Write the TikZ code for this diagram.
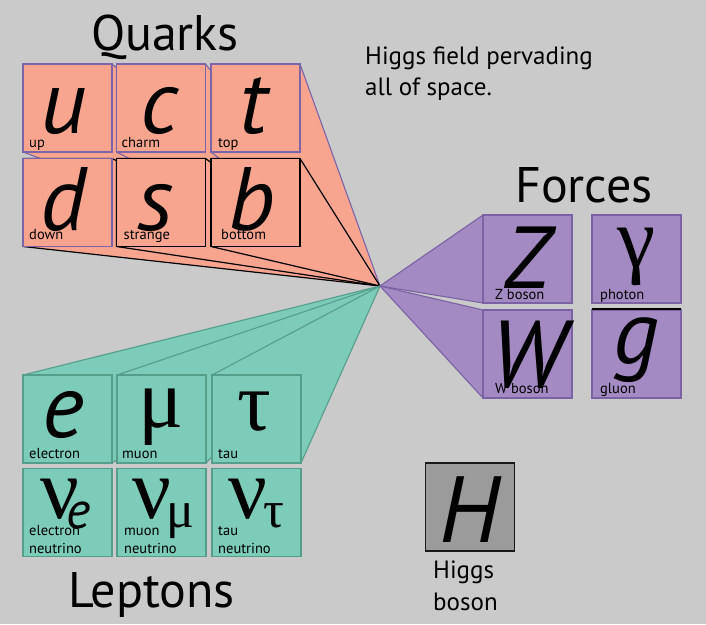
\documentclass[tikz,border=0pt]{standalone}
\usepackage{fontspec}
\setmainfont{PT Sans}
\newfontfamily\grkfont{Liberation Serif}
\usetikzlibrary{calc}
\pgfdeclarelayer{back}
\pgfdeclarelayer{beams}
\pgfsetlayers{back,beams,main}
\definecolor{bgc}{HTML}{CACACA}
\definecolor{qfill}{HTML}{F8A58F}
\definecolor{qline}{HTML}{7B64A8}
\definecolor{lfill}{HTML}{7DCBB9}
\definecolor{lline}{HTML}{559E8B}
\definecolor{ffill}{HTML}{A48AC2}
\definecolor{fline}{HTML}{7A62A5}
\definecolor{hfill}{HTML}{9B9B9B}
\tikzset{
  cell/.style={minimum width=89pt, minimum height=88pt, inner sep=0pt, outer sep=0pt, line width=1.1pt},
  qbox/.style={cell, draw=qline, fill=qfill},
  qboxk/.style={cell, draw=black, fill=qfill, line width=1.4pt},
  lbox/.style={cell, draw=lline, fill=lfill},
  fbox/.style={cell, draw=fline, fill=ffill},
  hbox/.style={cell, draw=black!90, fill=hfill, line width=1.3pt},
  bigit/.style={anchor=base, inner sep=0pt, font=\fontsize{90}{90}\selectfont\itshape},
  biggr/.style={anchor=base, inner sep=0pt, font=\fontsize{84}{84}\selectfont\grkfont},
  lab/.style={anchor=base west, inner sep=0pt, font=\fontsize{14.5}{14.5}\selectfont},
  title/.style={anchor=base, inner sep=0pt, font=\fontsize{50}{50}\selectfont},
  note/.style={anchor=base west, inner sep=0pt, font=\fontsize{25}{25}\selectfont},
  qbeam/.style={fill=qfill, draw=qline, line width=1.1pt, line join=round},
  qbeamk/.style={fill=qfill, draw=black, line width=1.2pt, line join=round},
  lbeam/.style={fill=lfill, draw=lline, line width=1.1pt, line join=round},
  fbeam/.style={fill=ffill, draw=fline, line width=1.1pt, line join=round},
}
\begin{document}
\begin{tikzpicture}[x=1pt,y=-1pt]
\useasboundingbox (0,0) rectangle (706,624);
\begin{pgfonlayer}{back}
  \fill[bgc] (0,0) rectangle (706,624);
\end{pgfonlayer}

\coordinate (O) at (380,286);

% Quarks
\node[qbox]  (u) at (67.5,108) {};
\node[qbox]  (c) at (161,108) {};
\node[qbox]  (t) at (255.5,108) {};
\node[qbox]  (d) at (67.5,202.5) {};
\node[qboxk] (s) at (161,202.5) {};
\node[qboxk] (b) at (255.5,202.5) {};

% Leptons
\node[lbox] (e)   at (67.5,419) {};
\node[lbox] (mu)  at (161.5,419) {};
\node[lbox] (tau) at (256.5,419) {};
\node[lbox] (ne)  at (67.5,512.5) {};
\node[lbox] (nm)  at (161.5,512.5) {};
\node[lbox] (nt)  at (256.5,512.5) {};

% Forces
\node[fbox] (Z) at (527.5,259) {};
\node[fbox] (ga) at (636.5,259) {};
\node[fbox] (W) at (527.5,354) {};
\node[fbox] (g) at (636.5,354) {};
\draw[line width=1.6pt] ($(g.north west)+(0,-1)$) -- ($(g.north east)+(0,-1)$);

% Higgs
\node[hbox] (H) at (470,507) {};

% beams
\begin{pgfonlayer}{beams}
  \foreach \n/\s in {u/qbeam,c/qbeam,t/qbeam,d/qbeamk,s/qbeamk,b/qbeamk}{
    \filldraw[\s] (\n.north east) -- (O) -- (\n.south west) -- (\n.north west) -- cycle;
  }
  \foreach \n in {e,mu,tau}{
    \filldraw[lbeam] (\n.north west) -- (O) -- (\n.south east) -- (\n.south west) -- cycle;
  }
  \foreach \n in {Z,W}{
    \filldraw[fbeam] (\n.north west) -- (O) -- (\n.south west) -- cycle;
  }
\end{pgfonlayer}

% big letters
\node[bigit] (uL) at ($(u.north)+(-4,69)$) {u};
\node[bigit] (cL) at ($(c.north)+(-2,69)$) {c};
\node[bigit] (tL) at ($(t.north)+(-2,69)$) {t};
\node[bigit] (dL) at ($(d.north)+(-4,72)$) {d};
\node[bigit] (sL) at ($(s.north)+(-6,72)$) {s};
\node[bigit] (bL) at ($(b.north)+(-4,72)$) {b};
\node[bigit] (eL) at ($(e.north)+(-4,62)$) {e};
\node[biggr] (muL) at ($(mu.north)+(0,52)$) {μ};
\node[biggr] (tauL) at ($(tau.north)+(-2,55)$) {τ};
\node[anchor=base, inner sep=0pt] (neL) at ($(ne.north)+(-2,50)$)
  {\fontsize{86}{86}\selectfont\grkfont ν\kern-0.14em\raisebox{-10pt}{\fontsize{52}{52}\selectfont\normalfont\itshape e}};
\node[anchor=base, inner sep=0pt] (nmL) at ($(nm.north)+(2,50)$)
  {\fontsize{86}{86}\selectfont\grkfont ν\kern-0.05em\raisebox{-9pt}{\fontsize{52}{52}\selectfont μ}};
\node[anchor=base, inner sep=0pt] (ntL) at ($(nt.north)+(0,50)$)
  {\fontsize{86}{86}\selectfont\grkfont ν\kern-0.05em\raisebox{-9pt}{\fontsize{52}{52}\selectfont τ}};
\node[bigit, font=\fontsize{88}{88}\selectfont\itshape] (ZL) at ($(Z.north)+(0,73)$) {Z};
\node[bigit, font=\fontsize{95}{95}\selectfont\itshape] (WL) at ($(W.north)+(0,77)$) {W};
\node[biggr, font=\fontsize{86}{86}\selectfont\grkfont] (gaL) at ($(ga.north)+(0,52)$) {γ};
\node[bigit] (gL) at ($(g.north)+(0,53)$) {g};
\node[bigit, font=\fontsize{94}{94}\selectfont\itshape] (HL) at ($(H.north)+(0,79)$) {H};

% small labels
\node[lab] at ($(u.south west)+(6,-5)$) {up};
\node[lab] at ($(c.south west)+(5,-5)$) {charm};
\node[lab] at ($(t.south west)+(7,-5)$) {top};
\node[lab] at ($(d.south west)+(6,-7)$) {down};
\node[lab] at ($(s.south west)+(7,-7)$) {strange};
\node[lab] at ($(b.south west)+(10,-7)$) {bottom};
\node[lab] at ($(e.south west)+(6,-5)$) {electron};
\node[lab] at ($(mu.south west)+(5,-5)$) {muon};
\node[lab] at ($(tau.south west)+(6,-5)$) {tau};
\node[lab] at ($(ne.south west)+(6,-21)$) {electron};
\node[lab] at ($(ne.south west)+(6,-3)$) {neutrino};
\node[lab] at ($(nm.south west)+(7,-21)$) {muon};
\node[lab] at ($(nm.south west)+(7,-3)$) {neutrino};
\node[lab] at ($(nt.south west)+(6,-21)$) {tau};
\node[lab] at ($(nt.south west)+(6,-3)$) {neutrino};
\node[lab] at ($(Z.south west)+(12,-4)$) {Z boson};
\node[lab] at ($(ga.south west)+(8,-4)$) {photon};
\node[lab] at ($(W.south west)+(12,-5)$) {W boson};
\node[lab] at ($(g.south west)+(8,-5)$) {gluon};

% titles and notes
\node[title] (qT) at (165,50) {Quarks};
\node[title] (fT) at (584,202) {Forces};
\node[title] (lT) at (151.5,607) {Leptons};
\node[note] (n1) at (365,64) {Higgs field pervading};
\node[note] (n2) at (365,95) {all of space.};
\node[note] (h1) at (433,578) {Higgs};
\node[note] (h2) at (433,610) {boson};
\end{tikzpicture}
\end{document}
